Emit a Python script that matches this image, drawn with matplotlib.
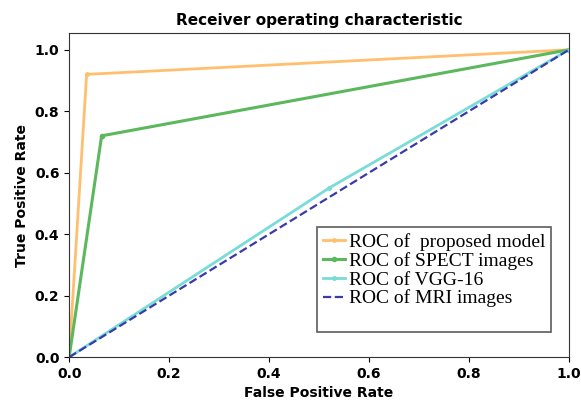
import matplotlib
matplotlib.use("Agg")
import matplotlib.pyplot as plt

fpr_proposed = [0.0, 0.035, 1.0]
tpr_proposed = [0.0, 0.92, 1.0]
fpr_spect = [0.0, 0.065, 1.0]
tpr_spect = [0.0, 0.72, 1.0]
fpr_vgg = [0.0, 0.52, 1.0]
tpr_vgg = [0.0, 0.55, 1.0]
fpr_mri = [0.0, 1.0]
tpr_mri = [0.0, 1.0]
labels = ["ROC of  proposed model", "ROC of SPECT images", "ROC of VGG-16", "ROC of MRI images"]
xticks = [0.0, 0.2, 0.4, 0.6, 0.8, 1.0]
yticks = [0.0, 0.2, 0.4, 0.6, 0.8, 1.0]

fig = plt.figure(figsize=(5.81, 4.11), dpi=100)
ax = fig.add_axes([0.119, 0.131, 0.860, 0.789])

ax.plot(fpr_proposed, tpr_proposed, color="#ffbf6e", lw=2, marker=".", ms=5, label=labels[0])
ax.plot(fpr_spect, tpr_spect, color="#5cb85c", lw=2.2, marker=".", ms=6, label=labels[1])
ax.plot(fpr_vgg, tpr_vgg, color="#78dcd8", lw=2, marker=".", ms=5, label=labels[2])
ax.plot(fpr_mri, tpr_mri, color="#3a3aa8", lw=1.6, ls="--", label=labels[3])

ax.set_xlim(0, 1.0)
ax.set_ylim(0, 1.055)
ax.set_xticks(xticks)
ax.set_yticks(yticks)
ax.set_xticklabels([f"{t:.1f}" for t in xticks], fontsize=10, fontweight="bold")
ax.set_yticklabels([f"{t:.1f}" for t in yticks], fontsize=10, fontweight="bold")
ax.set_xlabel("False Positive Rate", fontsize=10, fontweight="bold")
ax.set_ylabel("True Positive Rate", fontsize=10, fontweight="bold")
ax.set_title("Receiver operating characteristic", fontsize=11, fontweight="bold")
for s in ax.spines.values():
    s.set_color("#333333")

handles, labs = ax.get_legend_handles_labels()
dummy, = ax.plot([], [], color="none")
handles.append(dummy)
labs.append(" ")
leg = ax.legend(handles, labs, loc="upper left", bbox_to_anchor=(0.497, 0.40),
                prop={"family": "Liberation Serif", "size": 14},
                frameon=True, fancybox=False, edgecolor="#333333",
                handlelength=1.1, handletextpad=0.2, labelspacing=0.05,
                borderpad=0.3, borderaxespad=0)
leg.get_frame().set_linewidth(1.2)

fig.savefig("out.png", dpi=100)
